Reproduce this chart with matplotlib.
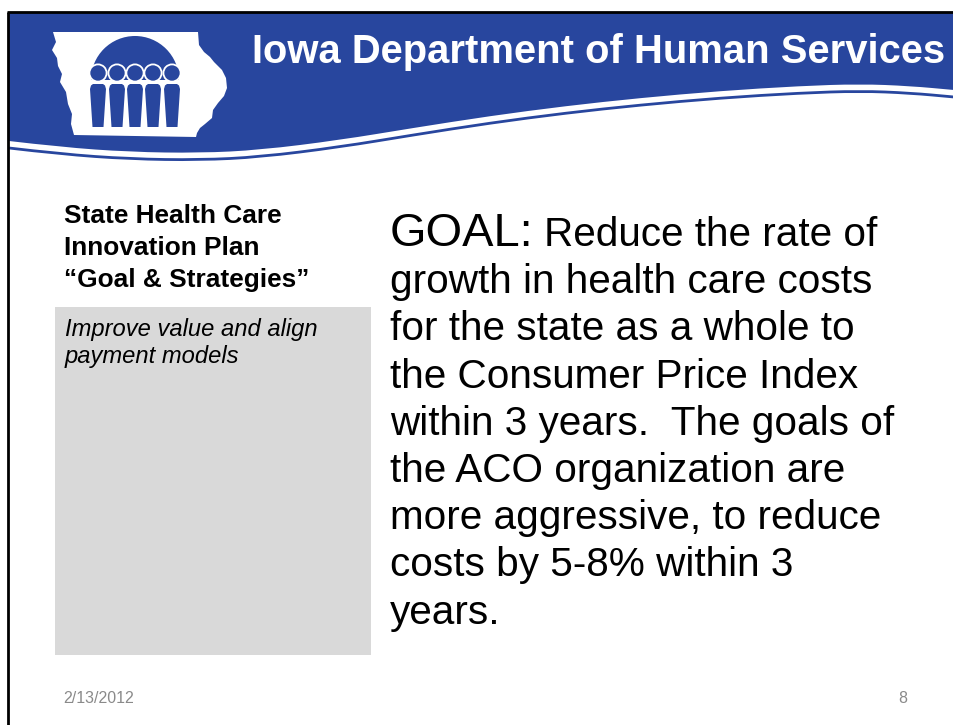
import matplotlib.pyplot as plt
from matplotlib.patches import Polygon, Circle, Wedge, Rectangle, PathPatch
from matplotlib.path import Path

# Slide text ===============================
header = 'Iowa Department of Human Services'
side_title = ['State Health Care', 'Innovation Plan', '\u201cGoal & Strategies\u201d']
side_note = ['Improve value and align', 'payment models']
goal_word = 'GOAL:'
goal_lines = ['Reduce the rate of',
              'growth in health care costs',
              'for the state as a whole to',
              'the Consumer Price Index',
              'within 3 years.  The goals of',
              'the ACO organization are',
              'more aggressive, to reduce',
              'costs by 5-8% within 3',
              'years.']
date_text = '2/13/2012'
page_text = '8'

# Banner shape (pixel coords, y down) =======
wave_x = [9, 60, 130, 200, 260, 340, 413, 490, 566, 640, 720, 800, 860, 910, 954]
wave_y = [141, 147, 152, 153, 150, 140, 128, 116, 106, 98, 91, 86, 84, 86, 90]

iowa_x = [53, 198, 199, 204, 210, 214, 222, 226, 227, 224, 218, 213, 212, 205, 200, 197, 196,
          74, 71, 72, 68, 66, 60, 62, 58, 57, 52, 56]
iowa_y = [32, 32, 45, 52, 57, 62, 70, 78, 88, 96, 103, 110, 118, 124, 128, 133, 137,
          135, 124, 114, 104, 92, 82, 74, 66, 58, 50, 42]
people_x = [98, 117, 135, 153, 172]

blue = '#28469e'
font = 'Liberation Sans'
W, H = 954, 725
px = 0.72  # px -> pt at 100 dpi


def smooth(xs, ys, dy=0):
    # quadratic curve through midpoints of the control polygon
    pts = [(x, y + dy) for x, y in zip(xs, ys)]
    verts, codes = [pts[0]], [Path.MOVETO]
    for i in range(1, len(pts) - 1):
        mid = ((pts[i][0] + pts[i + 1][0]) / 2, (pts[i][1] + pts[i + 1][1]) / 2)
        verts += [pts[i], mid]
        codes += [Path.CURVE3, Path.CURVE3]
    verts.append(pts[-1])
    codes.append(Path.LINETO)
    return verts, codes


fig = plt.figure(figsize=(W / 100, H / 100), dpi=100)
ax = fig.add_axes([0, 0, 1, 1])
ax.set_xlim(0, W)
ax.set_ylim(H, 0)
ax.axis('off')

# Blue banner with wavy bottom and thin line under it
v, c = smooth(wave_x, wave_y)
band_v = [(wave_x[0], 13)] + v + [(W, 13), (wave_x[0], 13)]
band_c = [Path.MOVETO, Path.LINETO] + c[1:] + [Path.LINETO, Path.CLOSEPOLY]
ax.add_patch(PathPatch(Path(band_v, band_c), facecolor=blue, edgecolor='none'))
v2, c2 = smooth(wave_x, wave_y, dy=7)
ax.add_patch(PathPatch(Path(v2, c2), facecolor='none', edgecolor=blue, lw=2.0))

# Frame lines
ax.plot([8, 8], [12, H], color='black', lw=2.0, solid_capstyle='butt')
ax.plot([7, W], [12, 12], color='black', lw=2.0, solid_capstyle='butt')

# Logo: state outline, dome, people
ax.add_patch(Polygon(list(zip(iowa_x, iowa_y)), closed=True, color='white', lw=0))
ax.add_patch(Wedge((135, 80), 44, 180, 360, color=blue, lw=0))
for cx in people_x:
    body = [(cx - 8, 89), (cx - 7, 85.5), (cx - 5, 84), (cx + 5, 84), (cx + 7, 85.5),
            (cx + 8, 89), (cx + 5.5, 127), (cx - 5.5, 127)]
    ax.add_patch(Polygon(body, closed=True, color=blue, lw=0))
    ax.add_patch(Circle((cx, 73), 8.6, facecolor=blue, edgecolor='white', lw=1.3))

# Header title
ax.text(252, 63, header, color='white', fontsize=40 * px, fontweight='bold',
        family=font, ha='left', va='baseline')

# Left column
for i, line in enumerate(side_title):
    ax.text(64, 223 + 32 * i, line, fontsize=26.3 * px, fontweight='bold',
            family=font, ha='left', va='baseline', color='black')
ax.add_patch(Rectangle((55, 307), 316, 348, color='#d9d9d9', lw=0))
for i, line in enumerate(side_note):
    ax.text(65, 336 + 27 * i, line, fontsize=23.8 * px, style='italic',
            family=font, ha='left', va='baseline', color='black')

# Goal text
t = ax.text(390, 246, goal_word, fontsize=47 * px, family=font,
            ha='left', va='baseline', color='black')
fig.canvas.draw()
bb = t.get_window_extent().transformed(ax.transData.inverted())
ax.text(max(bb.x0, bb.x1) + 10, 246, goal_lines[0], fontsize=40.5 * px, family=font,
        ha='left', va='baseline', color='black')
for i, line in enumerate(goal_lines[1:]):
    ax.text(390, 246 + 47.2 * (i + 1), line, fontsize=40.5 * px, family=font,
            ha='left', va='baseline', color='black')

# Footer
ax.text(63, 703, date_text, fontsize=16 * px, family=font, color='#8a8a8a',
        ha='left', va='baseline')
ax.text(907, 703, page_text, fontsize=16 * px, family=font, color='#8a8a8a',
        ha='right', va='baseline')

plt.savefig('out.png', dpi=100)
plt.close()
